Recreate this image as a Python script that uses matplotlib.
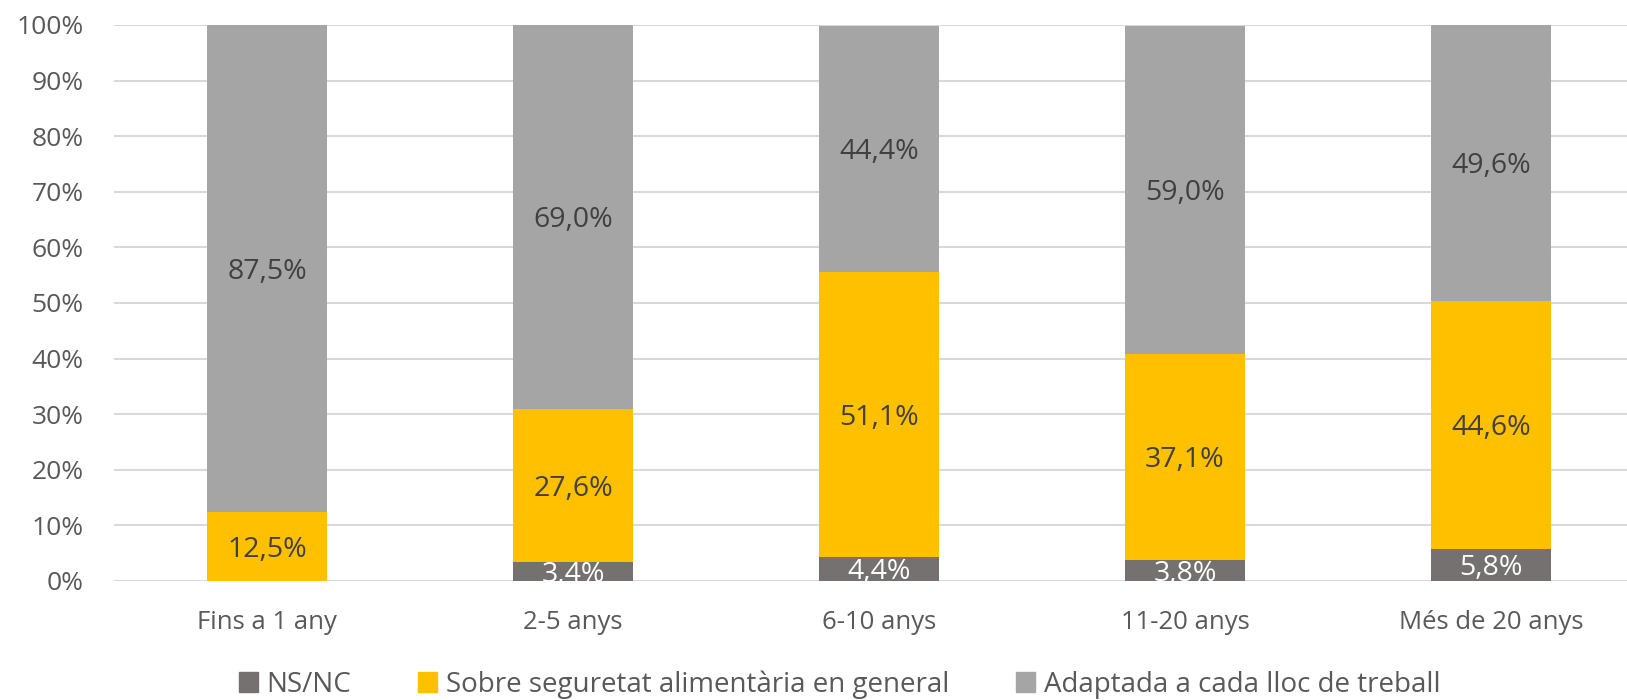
import numpy as np
import matplotlib
matplotlib.use('Agg')
import matplotlib.pyplot as plt
from matplotlib.patches import Patch

categories = ['Fins a 1 any', '2-5 anys', '6-10 anys', '11-20 anys', 'Més de 20 anys']
series_names = ['NS/NC', 'Sobre seguretat alimentària en general', 'Adaptada a cada lloc de treball']
nsnc = [0.0, 3.4, 4.4, 3.8, 5.8]
general = [12.5, 27.6, 51.1, 37.1, 44.6]
adaptada = [87.5, 69.0, 44.4, 59.0, 49.6]

colors = ['#767171', '#FFC000', '#A5A5A5']
label_colors = ['white', '#404040', '#404040']

plt.rcParams['font.family'] = ['Open Sans', 'DejaVu Sans']

fig = plt.figure(figsize=(16.27, 7.0), dpi=100)
# category width ~306px, plot cut off at right edge like the original
ax = fig.add_axes([114 / 1627, 119 / 700, 1530 / 1627, 556 / 700])

x = np.arange(len(categories))
bottom = np.zeros(len(categories))
for vals, col, lc in zip([nsnc, general, adaptada], colors, label_colors):
    vals = np.array(vals)
    ax.bar(x, vals, width=0.395, bottom=bottom, color=col, zorder=2)
    for xi, b, v in zip(x, bottom, vals):
        if v > 0:
            ax.text(xi, b + v / 2, f'{v:.1f}%'.replace('.', ','), ha='center',
                    va='center_baseline', fontsize=20.5, color=lc, zorder=3, clip_on=True)
    bottom += vals

ax.set_xlim(-0.5, len(categories) - 0.5)
ax.set_ylim(0, 100)
ax.set_yticks(np.arange(0, 101, 10))
ax.set_yticklabels([f'{v}%' for v in range(0, 101, 10)])
ax.set_xticks(x)
ax.set_xticklabels(categories)
ax.yaxis.grid(True, color='#D9D9D9', linewidth=1.5, zorder=0)
ax.set_axisbelow(True)
for s in ax.spines.values():
    s.set_visible(False)
ax.tick_params(axis='both', length=0, labelcolor='#595959')
ax.tick_params(axis='x', pad=21, labelsize=18.5)
ax.tick_params(axis='y', pad=22, labelsize=19)

handles = [Patch(color=c) for c in colors]
fig.legend(handles, series_names, loc='center', bbox_to_anchor=(0.516, 0.022), ncol=3,
           frameon=False, fontsize=20, labelcolor='#595959', handlelength=0.7,
           handleheight=0.7, handletextpad=0.3, columnspacing=2.4)

fig.savefig('out.png', dpi=100)
